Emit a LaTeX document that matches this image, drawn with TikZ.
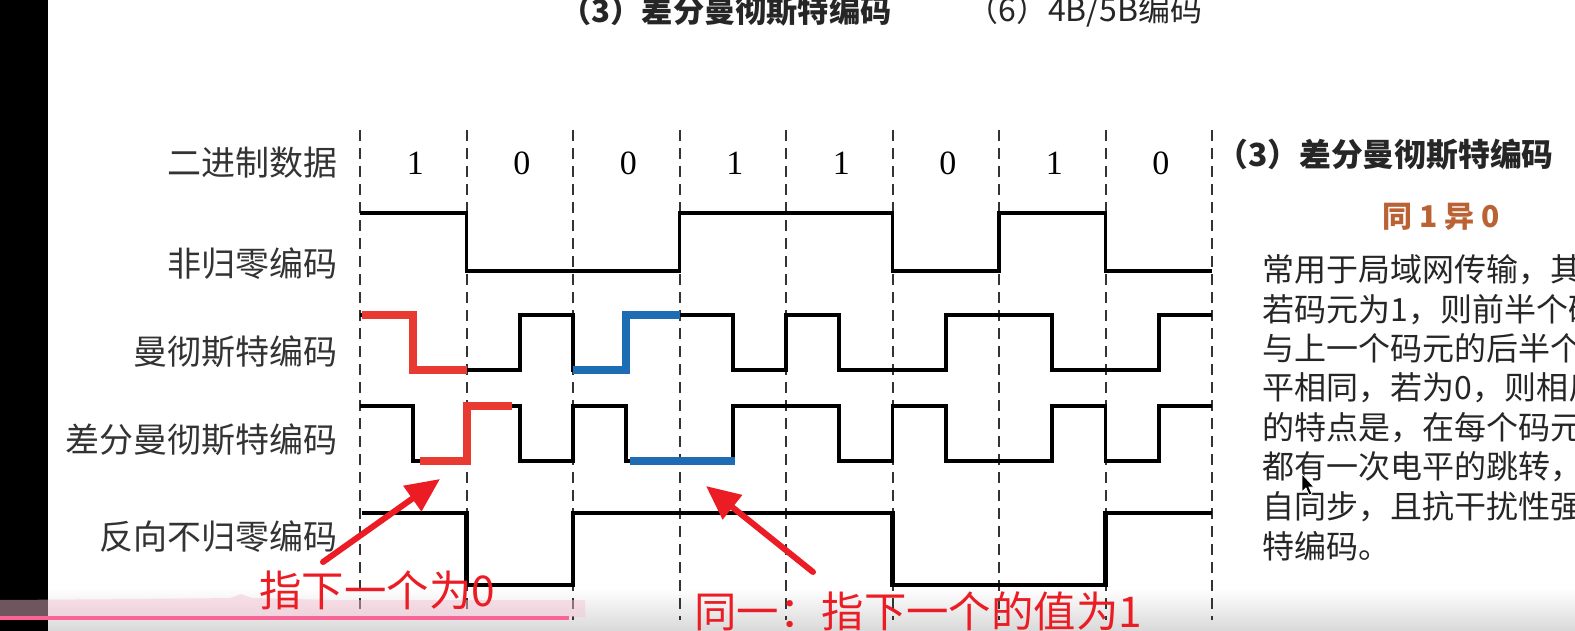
\documentclass[tikz,border=0pt]{standalone}
\usepackage{fontspec}
\setmainfont{Liberation Serif}
\newfontfamily\cjk{Noto Sans CJK SC}
\usetikzlibrary{arrows.meta}
\definecolor{hlred}{RGB}{232,58,48}
\definecolor{hlblue}{RGB}{30,108,180}
\definecolor{notered}{RGB}{236,28,36}
\definecolor{tagbrown}{RGB}{186,98,52}
\definecolor{stripink}{RGB}{248,190,210}
\definecolor{barpink}{RGB}{250,100,150}
\tikzset{
  celldash/.style={line width=1pt, black!80, dash pattern=on 5.5pt off 3.5pt},
  wave/.style={line width=1.8pt, line join=miter},
  hlr/.style={line width=4pt, hlred},
  hlb/.style={line width=4pt, hlblue},
  rowlabel/.style={font=\cjk\fontsize{17}{20}\selectfont, anchor=east, inner sep=0pt, text=black!80},
  bit/.style={font=\fontsize{17}{20}\selectfont, inner sep=0pt},
  para/.style={font=\cjk\fontsize{16}{19}\selectfont, anchor=west, inner sep=0pt, text=black!85},
  note/.style={font=\cjk\fontsize{21.2}{24}\selectfont, text=notered, anchor=west, inner sep=0pt},
  pointer/.style={notered, line width=3pt, line cap=round, -{Triangle[length=17pt,width=15pt]}},
}
\begin{document}
\begin{tikzpicture}[x=0.5pt,y=-0.5pt]
  \useasboundingbox (0,0) rectangle (1575,631);
  \clip (0,0) rectangle (1575,631);
  \fill[white] (0,0) rectangle (1575,631);
  \shade[top color=white, bottom color=black!15] (0,588) rectangle (1575,631);
  \fill[black] (0,0) rectangle (48,631);

  % headers (cut at the top)
  \node[anchor=west, inner sep=0pt, text=black!85, font=\cjk\bfseries\fontsize{15.6}{18}\selectfont] (hd3) at (560,11) {（3）差分曼彻斯特编码};
  \node[anchor=west, inner sep=0pt, text=black!85, font=\cjk\fontsize{16}{18}\selectfont] (hd6) at (966,11) {（6）4B/5B编码};

  % cell borders
  \foreach \i in {0,...,8}
    \draw[celldash] ({360+106.5*\i},130) -- ({360+106.5*\i},620);

  % data bits
  \foreach \b [count=\i] in {1,0,0,1,1,0,1,0}
    \node[bit] (bit\i) at ({362+106.5*(\i-0.5)},163) {\b};

  \node[rowlabel] (lbin) at (338,163) {二进制数据};
  \node[rowlabel] (lnrz) at (338,264) {非归零编码};
  \node[rowlabel] (lman) at (338,352) {曼彻斯特编码};
  \node[rowlabel] (ldif) at (338,440) {差分曼彻斯特编码};
  \node[rowlabel] (lnrzi) at (338,537) {反向不归零编码};

  % NRZ
  \draw[wave] (360,213) -- (466.5,213) -- (466.5,271) -- (679.5,271) -- (679.5,213) -- (892.5,213) -- (892.5,271) -- (999,271) -- (999,213) -- (1105.5,213) -- (1105.5,271) -- (1212,271);
  % Manchester
  \draw[wave] (360,315) -- (413.25,315) -- (413.25,370) -- (519.75,370) -- (519.75,315) -- (573,315) -- (573,370) -- (626.25,370) -- (626.25,315) -- (732.75,315) -- (732.75,370) -- (786,370) -- (786,315) -- (839.25,315) -- (839.25,370) -- (945.75,370) -- (945.75,315) -- (1052.25,315) -- (1052.25,370) -- (1158.75,370) -- (1158.75,315) -- (1212,315);
  \draw[hlr] (362,315) -- (413.25,315) -- (413.25,370) -- (466.5,370);
  \draw[hlb] (573,370) -- (626.25,370) -- (626.25,315) -- (679.5,315);
  % differential Manchester
  \draw[wave] (360,406) -- (413.25,406) -- (413.25,461) -- (466.5,461) -- (466.5,406) -- (519.75,406) -- (519.75,461) -- (573,461) -- (573,406) -- (626.25,406) -- (626.25,461) -- (732.75,461) -- (732.75,406) -- (839.25,406) -- (839.25,461) -- (892.5,461) -- (892.5,406) -- (945.75,406) -- (945.75,461) -- (1052.25,461) -- (1052.25,406) -- (1105.5,406) -- (1105.5,461) -- (1158.75,461) -- (1158.75,406) -- (1212,406);
  \draw[hlr] (420,461) -- (466.5,461) -- (466.5,406) -- (512,406);
  \draw[hlb] (630,461) -- (735,461);
  % NRZI
  \draw[wave, line width=2.1pt] (362,513) -- (466.5,513) -- (466.5,585) -- (573,585) -- (573,513) -- (892.5,513) -- (892.5,585) -- (1105.5,585) -- (1105.5,513) -- (1212,513);

  % right hand notes
  \node[anchor=west, inner sep=0pt, text=black!85, font=\cjk\bfseries\fontsize{15.9}{18}\selectfont] (dmtitle) at (1216,155) {（3）差分曼彻斯特编码};
  \node[inner sep=0pt, text=tagbrown, font=\cjk\bfseries\fontsize{15}{18}\selectfont] (rule) at (1441,217) {同 1 异 0};
  \foreach \t [count=\i] in {常用于局域网传输，其, 若码元为1，则前半个码, 与上一个码元的后半个, 平相同，若为0，则相反, 的特点是，在每个码元, 都有一次电平的跳转，, 自同步，且抗干扰性强, 特编码。}
    \node[para] (line\i) at (1262,{270+39.4*(\i-1)}) {\t};
  % mouse pointer
  \fill[black, draw=white, line width=0.4pt] (1302,474) -- (1302,492) -- (1306,488) -- (1309,495) -- (1312,494) -- (1309,487) -- (1314,487) -- cycle;

  % player strip
  \fill[stripink, opacity=0.45] (0,600) -- (150,599) -- (230,598) -- (241,594) -- (252,598) -- (330,600) -- (585,600) -- (585,617) -- (0,617) -- cycle;
  \fill[barpink] (0,616) rectangle (569,620);

  % annotations
  \node[note] (note0) at (259,590) {指下一个为0};
  \node[note] (note1) at (694,611) {同一：指下一个的值为1};
  \coordinate (tail0) at (323,562);
  \coordinate (tip0) at (440,479);
  \coordinate (tail1) at (813,572);
  \coordinate (tip1) at (706,486);
  \draw[pointer] (tail0) -- (tip0);
  \draw[pointer] (tail1) -- (tip1);
\end{tikzpicture}
\end{document}
